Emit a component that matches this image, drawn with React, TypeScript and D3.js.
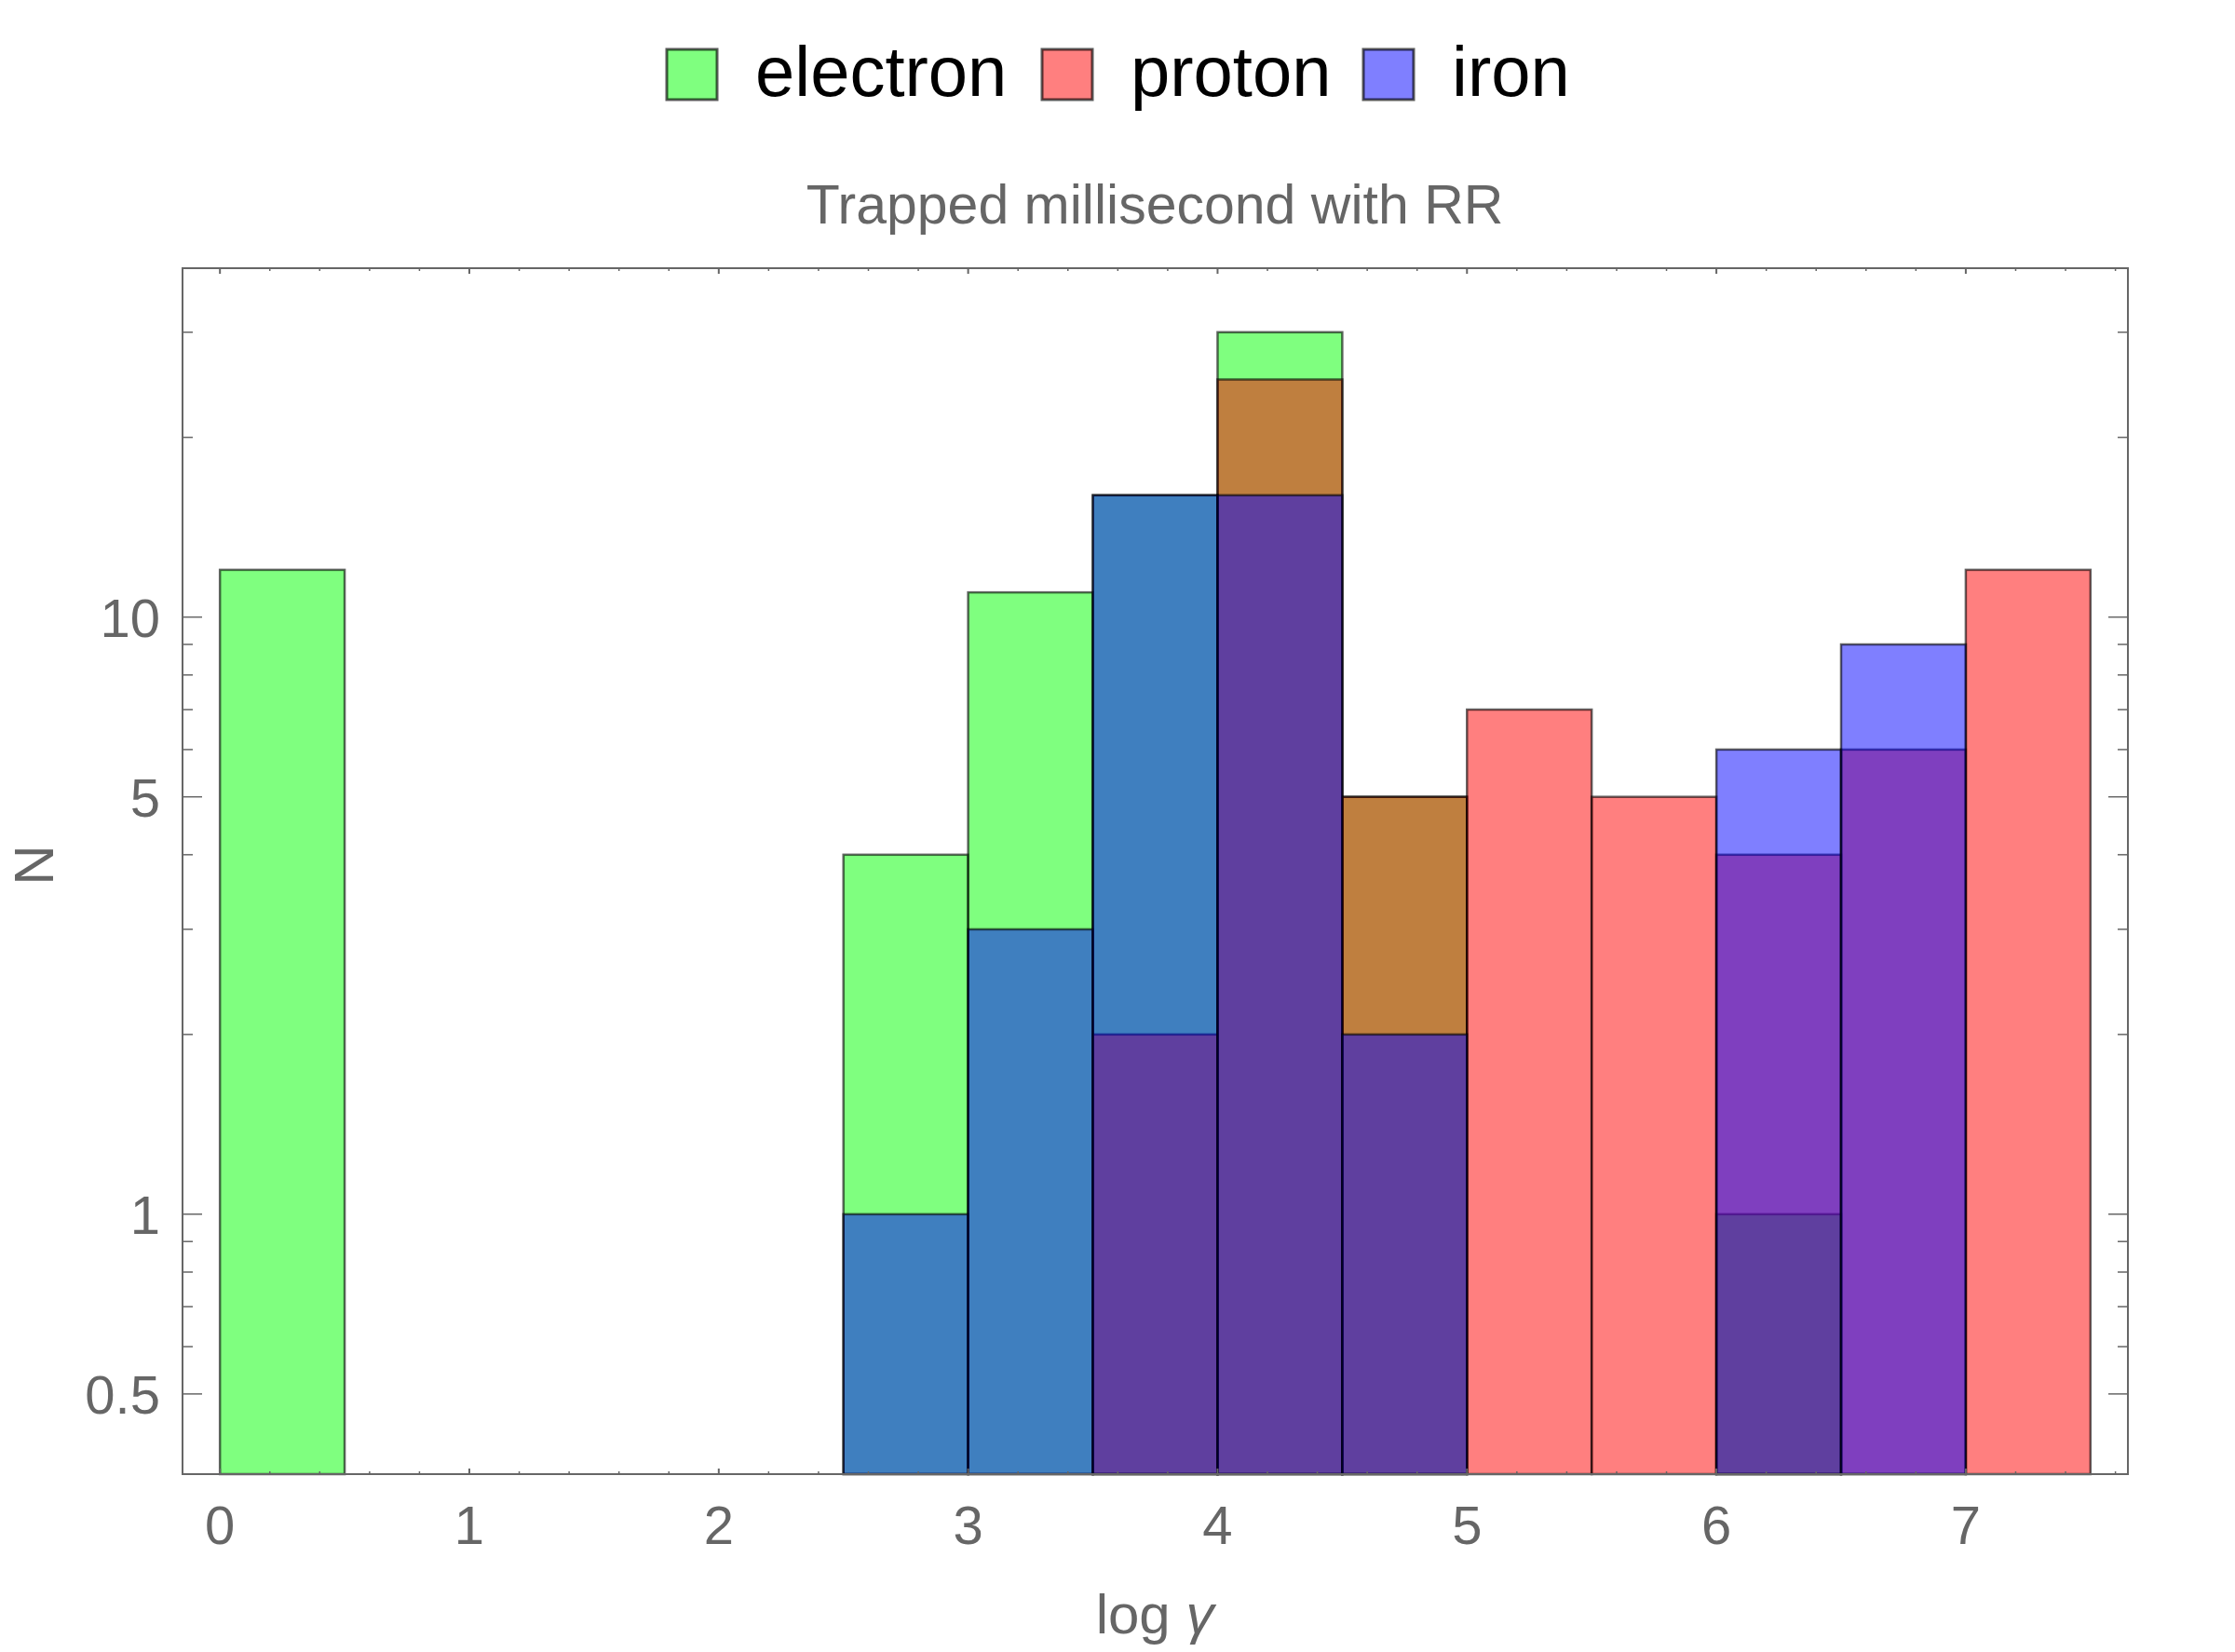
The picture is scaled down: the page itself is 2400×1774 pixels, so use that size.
import * as d3 from 'd3'
import React from 'react'

// histogram bins: left edges of 0.5-wide bins on log gamma
const binStarts = [0, 0.5, 1, 1.5, 2, 2.5, 3, 3.5, 4, 4.5, 5, 5.5, 6, 6.5, 7]
const binWidth = 0.5
const electron = [12, 0, 0, 0, 0, 4, 11, 16, 30, 5, 0, 0, 1, 0, 0]
const proton = [0, 0, 0, 0, 0, 0, 0, 2, 25, 5, 7, 5, 4, 6, 12]
const iron = [0, 0, 0, 0, 0, 1, 3, 16, 16, 2, 0, 0, 6, 9, 0]

const seriesNames = ['electron', 'proton', 'iron']
const seriesColors = ['rgb(0,255,0)', 'rgb(255,0,0)', 'rgb(0,0,255)']

const xTicks = [0, 1, 2, 3, 4, 5, 6, 7]
const yMajor = [0.5, 1, 5, 10]
const yMinor = [0.6, 0.7, 0.8, 0.9, 2, 3, 4, 6, 7, 8, 9, 20, 30]

const W = 2400
const H = 1774
const left = 196
const right = 2285
const top = 288
const bottom = 1583

const FONT = '"Liberation Sans", Arial, sans-serif'
const GRAY = '#666666'

const App = () => {
  const x = d3.scaleLinear().domain([-0.15, 7.65]).range([left, right])
  const y = d3.scaleLog().domain([0.367, 38.4]).range([bottom, top])

  const xMinor = d3.range(0, 7.61, 0.2).filter((v) => Math.abs(v - Math.round(v)) > 1e-6)
  const allSeries = [electron, proton, iron]

  const legendX = [716, 1119, 1464]

  return (
    <svg width={W} height={H} style={{ position: 'absolute', left: 0, top: 0, background: '#fff' }}>
      <rect x={0} y={0} width={W} height={H} fill="#fff" />

      {/* legend */}
      {seriesNames.map((name, i) => (
        <g key={name}>
          <rect
            x={legendX[i]}
            y={53}
            width={54}
            height={54}
            fill={seriesColors[i]}
            fillOpacity={0.5}
            stroke="#000"
            strokeOpacity={0.65}
            strokeWidth={3}
          />
          <text x={legendX[i] + 95} y={103} fontFamily={FONT} fontSize={76} fill="#000">
            {name}
          </text>
        </g>
      ))}

      {/* title */}
      <text x={1240} y={240} textAnchor="middle" fontFamily={FONT} fontSize={59} fill={GRAY}>
        Trapped millisecond with RR
      </text>

      {/* bars */}
      {allSeries.map((vals, si) => (
        <g key={si}>
          {vals.map((v, bi) =>
            v > 0 ? (
              <rect
                key={bi}
                x={x(binStarts[bi])}
                y={y(v)}
                width={x(binStarts[bi] + binWidth) - x(binStarts[bi])}
                height={bottom - y(v)}
                fill={seriesColors[si]}
                fillOpacity={0.5}
                stroke="#000"
                strokeOpacity={0.6}
                strokeWidth={2.5}
              />
            ) : null,
          )}
        </g>
      ))}

      {/* frame */}
      <rect x={left} y={top} width={right - left} height={bottom - top} fill="none" stroke={GRAY} strokeWidth={2} />

      {/* x ticks */}
      {xTicks.map((t) => (
        <g key={'xt' + t}>
          <line x1={x(t)} x2={x(t)} y1={bottom} y2={bottom - 6} stroke={GRAY} strokeWidth={2} />
          <line x1={x(t)} x2={x(t)} y1={top} y2={top + 6} stroke={GRAY} strokeWidth={2} />
          <text x={x(t)} y={1658} textAnchor="middle" fontFamily={FONT} fontSize={58} fill={GRAY}>
            {t}
          </text>
        </g>
      ))}
      {xMinor.map((t, i) => (
        <g key={'xm' + i}>
          <line x1={x(t)} x2={x(t)} y1={bottom} y2={bottom - 3} stroke={GRAY} strokeWidth={1.5} />
          <line x1={x(t)} x2={x(t)} y1={top} y2={top + 3} stroke={GRAY} strokeWidth={1.5} />
        </g>
      ))}

      {/* y ticks */}
      {yMajor.map((t) => (
        <g key={'yt' + t}>
          <line x1={left} x2={left + 21} y1={y(t)} y2={y(t)} stroke={GRAY} strokeWidth={1.5} />
          <line x1={right} x2={right - 21} y1={y(t)} y2={y(t)} stroke={GRAY} strokeWidth={1.5} />
          <text
            x={left - 24}
            y={y(t)}
            dy="0.36em"
            textAnchor="end"
            fontFamily={FONT}
            fontSize={58}
            fill={GRAY}
          >
            {t}
          </text>
        </g>
      ))}
      {yMinor.map((t) => (
        <g key={'ym' + t}>
          <line x1={left} x2={left + 11} y1={y(t)} y2={y(t)} stroke={GRAY} strokeWidth={1.5} />
          <line x1={right} x2={right - 11} y1={y(t)} y2={y(t)} stroke={GRAY} strokeWidth={1.5} />
        </g>
      ))}

      {/* axis labels */}
      <text
        transform="translate(57,929) rotate(-90)"
        textAnchor="middle"
        fontFamily={FONT}
        fontSize={60}
        fill={GRAY}
      >
        N
      </text>
      <text x={1240} y={1754} textAnchor="middle" fontFamily={FONT} fontSize={60} fill={GRAY}>
        log <tspan fontStyle="italic">γ</tspan>
      </text>
    </svg>
  )
}

export default App
